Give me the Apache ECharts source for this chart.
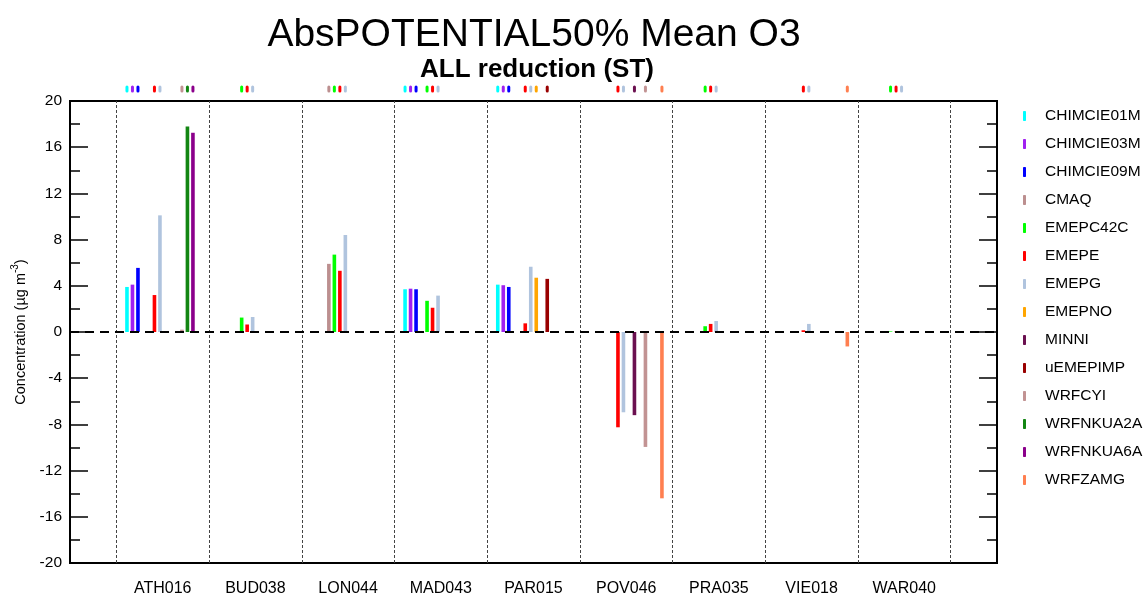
<!DOCTYPE html>
<html>
<head>
<meta charset="utf-8">
<script src="https://cdn.jsdelivr.net/npm/echarts@6/dist/echarts.min.js"></script>
<style>html,body{margin:0;padding:0;background:#fff;}#c{width:1145px;height:596px;}</style>
</head>
<body>
<div id="c"></div>
<script>
const stations = ['ATH016','BUD038','LON044','MAD043','PAR015','POV046','PRA035','VIE018','WAR040'];
const models = ['CHIMCIE01M','CHIMCIE03M','CHIMCIE09M','CMAQ','EMEPC42C','EMEPE','EMEPG','EMEPNO','MINNI','uEMEPIMP','WRFCYI','WRFNKUA2A','WRFNKUA6A','WRFZAMG'];
const colors = ['#00ffff','#a020f0','#0000ff','#bc8f8f','#00ff00','#ff0000','#b0c4de','#ffa500','#6b1050','#990000','#c29393','#138613','#8b008b','#ff7f50'];
// values per model, one per station (null = no data)
const CHIMCIE01M = [3.9, null, null, 3.7, 4.1, null, null, null, null];
const CHIMCIE03M = [4.1, null, null, 3.75, 4.05, null, null, null, null];
const CHIMCIE09M = [5.55, null, null, 3.7, 3.9, null, null, null, null];
const CMAQ       = [null, null, 5.9, null, null, null, null, null, null];
const EMEPC42C   = [null, 1.25, 6.7, 2.7, null, null, 0.5, null, 0.05];
const EMEPE      = [3.2, 0.65, 5.3, 2.1, 0.75, -8.25, 0.7, 0.15, 0.03];
const EMEPG      = [10.1, 1.3, 8.4, 3.15, 5.65, -6.95, 0.95, 0.7, 0.1];
const EMEPNO     = [null, null, null, null, 4.7, null, null, null, null];
const MINNI      = [null, null, null, null, null, -7.2, null, null, null];
const uEMEPIMP   = [null, null, null, null, 4.6, null, null, null, null];
const WRFCYI     = [0.2, null, null, null, null, -9.95, null, null, null];
const WRFNKUA2A  = [17.8, null, null, null, null, null, null, null, null];
const WRFNKUA6A  = [17.25, null, null, null, null, null, null, null, null];
const WRFZAMG    = [null, null, null, null, null, -14.4, null, -1.25, null];
const values = [CHIMCIE01M,CHIMCIE03M,CHIMCIE09M,CMAQ,EMEPC42C,EMEPE,EMEPG,EMEPNO,MINNI,uEMEPIMP,WRFCYI,WRFNKUA2A,WRFNKUA6A,WRFZAMG];
const yTicks = {min: -20, max: 20, interval: 4};
const separators = [0.5,1.5,2.5,3.5,4.5,5.5,6.5,7.5,8.5,9.5];

const FONT = 'Liberation Sans, Arial, sans-serif';
const chart = echarts.init(document.getElementById('c'), null, {renderer: 'canvas'});

function makeRender(mi) {
  return function (params, api) {
    const x = api.value(0), v = api.value(1);
    const base = api.coord([x, 0]);
    const tip = api.coord([x, v]);
    const slot = api.size([1, 0])[0];
    const off = (mi - 6.5) * slot * 0.0593;
    const w = slot * 0.039;
    const cx = base[0] + off;
    const topY = api.coord([x, yTicks.max])[1];
    return {
      type: 'group',
      children: [
        {type: 'rect', shape: {x: cx - w / 2, y: Math.min(base[1], tip[1]), width: w, height: Math.abs(base[1] - tip[1])}, style: {fill: colors[mi]}},
        {type: 'rect', shape: {x: cx - 1.5, y: topY - 15.5, width: 3, height: 7, r: 1.5}, style: {fill: colors[mi]}}
      ]
    };
  };
}

const series = models.map((m, mi) => ({
  name: m,
  type: 'custom',
  clip: false,
  z: 3,
  itemStyle: {color: colors[mi]},
  renderItem: makeRender(mi),
  data: values[mi].map((v, si) => v === null ? null : [si + 1, v]).filter(d => d !== null)
}));

series.push({
  name: 'guides',
  type: 'line',
  data: [],
  z: 2,
  markLine: {
    silent: true,
    symbol: 'none',
    animation: false,
    label: {show: false},
    data: separators.map(s => ({xAxis: s, lineStyle: {color: '#444', width: 1, type: [3, 2]}}))
      .concat([{yAxis: 0, lineStyle: {color: '#000', width: 2, type: [9, 6]}}])
  }
});

chart.setOption({
  animation: false,
  backgroundColor: '#fff',
  title: [
    {text: 'AbsPOTENTIAL50% Mean O3', left: 529, top: 11, textAlign: 'center',
     textStyle: {fontFamily: FONT, fontSize: 39, fontWeight: 'normal', color: '#000'}},
    {text: 'ALL reduction (ST)', left: 532, top: 52, textAlign: 'center',
     textStyle: {fontFamily: FONT, fontSize: 26, fontWeight: 'bold', color: '#000'}}
  ],
  grid: {left: 70, right: 148, top: 101, bottom: 33, show: true, borderColor: '#000', borderWidth: 2, backgroundColor: 'transparent', containLabel: false, outerBoundsMode: 'none'},
  legend: {
    orient: 'vertical', left: 1023, top: 108, padding: 0,
    data: models,
    icon: 'roundRect', itemWidth: 3, itemHeight: 10, itemGap: 12,
    textStyle: {fontFamily: FONT, fontSize: 15.5, lineHeight: 14, color: '#000', padding: [0, 0, 0, 14]},
    selectedMode: false
  },
  xAxis: {
    type: 'value', min: 0, max: 10, interval: 1,
    axisLine: {show: false}, axisTick: {show: false}, splitLine: {show: false},
    axisLabel: {fontFamily: FONT, fontSize: 16, color: '#000', margin: 18,
      formatter: v => stations[v - 1] || ''}
  },
  yAxis: [
    {type: 'value', min: yTicks.min, max: yTicks.max, interval: yTicks.interval,
     name: '{a|Concentration (µg m}{s|-3}{a|)}', nameLocation: 'middle', nameGap: 38, nameRotate: 90,
     nameTextStyle: {rich: {a: {fontFamily: FONT, fontSize: 14.5, color: '#000', lineHeight: 20}, s: {fontFamily: FONT, fontSize: 10, color: '#000', lineHeight: 20, verticalAlign: 'top', padding: [0, 0, 8, 0]}}},
     axisLine: {show: false}, splitLine: {show: false},
     axisTick: {show: true, inside: true, length: 18, lineStyle: {color: '#000', width: 1.5}},
     minorTick: {show: true, splitNumber: 2, length: 10, lineStyle: {color: '#000', width: 1.5}},
     axisLabel: {fontFamily: FONT, fontSize: 15.5, color: '#000', margin: 8}},
    {type: 'value', min: yTicks.min, max: yTicks.max, interval: yTicks.interval, position: 'right',
     axisLine: {show: false}, splitLine: {show: false}, axisLabel: {show: false},
     axisTick: {show: true, inside: true, length: 18, lineStyle: {color: '#000', width: 1.5}},
     minorTick: {show: true, splitNumber: 2, length: 10, lineStyle: {color: '#000', width: 1.5}}}
  ],
  series: series
});
</script>
</body>
</html>
